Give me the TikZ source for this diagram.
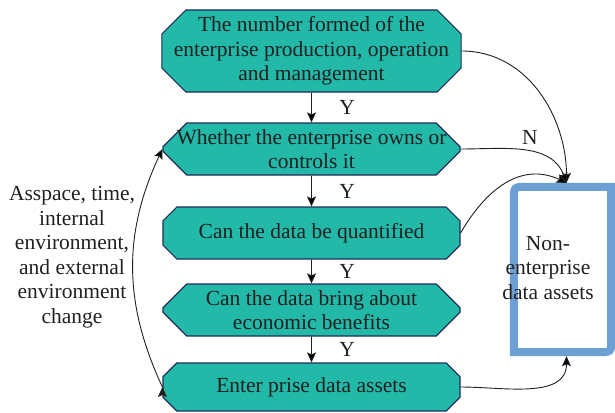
\documentclass[tikz,border=0pt]{standalone}
\usepackage{fontspec}
\setmainfont{Liberation Serif}
\usetikzlibrary{shapes.misc,arrows.meta}

\definecolor{stepfill}{RGB}{34,185,169}
\definecolor{stepline}{RGB}{30,45,90}
\definecolor{assetline}{RGB}{108,160,212}
\definecolor{ink}{RGB}{35,31,32}

\tikzset{
  stepbox/.style={chamfered rectangle, chamfered rectangle xsep=12pt,
    chamfered rectangle ysep=12pt, chamfered rectangle angle=45,
    draw=stepline, line width=1.2pt, fill=stepfill, text=ink,
    minimum width=297pt, minimum height=52pt, inner xsep=0pt, inner ysep=-8pt,
    align=center},
  assetbox/.style={rectangle, minimum width=105pt, minimum height=173pt, inner sep=0pt},
  flow/.style={-{Stealth[length=10pt,width=9pt,inset=2pt]}, line width=0.9pt, draw=ink}
}

\begin{document}
\begin{tikzpicture}[x=1pt,y=-1pt,font=\fontsize{21.5}{24.5}\selectfont,text=ink]
  \useasboundingbox (0,0) rectangle (615,412);

  \node[stepbox, minimum height=82pt] (origin) at (311.5,51)
    {The number formed of the\\enterprise production, operation\\and management};
  \node[stepbox] (owns) at (311.5,149) {Whether the enterprise owns or\\controls it};
  \node[stepbox] (quant) at (311.5,233) {Can the data be quantified};
  \node[stepbox] (benefit) at (311.5,310) {Can the data bring about\\economic benefits};
  \node[stepbox, minimum height=48pt] (assets) at (311.5,387) {Enter prise data assets};

  % thick blue frame, top left and bottom right rounded
  \node[assetbox] (nonent) at (562.5,269.5) {};
  \draw[assetline, line width=8pt]
    ([xshift=4pt,yshift=4pt]nonent.south west)
    -- ([xshift=4pt,yshift=-17pt]nonent.north west)
    .. controls ([xshift=4pt,yshift=-4pt]nonent.north west) .. ([xshift=17pt,yshift=-4pt]nonent.north west)
    -- ([xshift=-4pt,yshift=-4pt]nonent.north east)
    -- ([xshift=-4pt,yshift=17pt]nonent.south east)
    .. controls ([xshift=-4pt,yshift=4pt]nonent.south east) .. ([xshift=-17pt,yshift=4pt]nonent.south east)
    -- cycle;
  \node[align=center] (nonenttext) at (548,268) {Non-\\enterprise\\data assets};

  \node[align=center] (change) at (72,257)
    {Asspace, time,\\internal\\environment,\\and external\\environment\\change};

  \path[flow]
    (origin) edge node [right=24pt] {Y} (owns)
    (owns) edge node [right=24pt] {Y} (quant)
    (quant) edge node [right=24pt] {Y} (benefit)
    (benefit) edge node [right=24pt] {Y} (assets);

  \path[flow]
    (origin.east) edge [out=0,in=90] ([xshift=4pt]nonent.north)
    (owns.east) edge [out=0,in=110] node [above=3pt,pos=0.55] {N} ([xshift=4pt]nonent.north)
    (quant.east) edge [out=60,in=155,looseness=1.1] ([xshift=4pt]nonent.north)
    (assets.east) edge [out=0,in=-90] ([xshift=4pt]nonent.south)
    (assets.west) edge [out=115,in=245] (owns.west);

\end{tikzpicture}
\end{document}
